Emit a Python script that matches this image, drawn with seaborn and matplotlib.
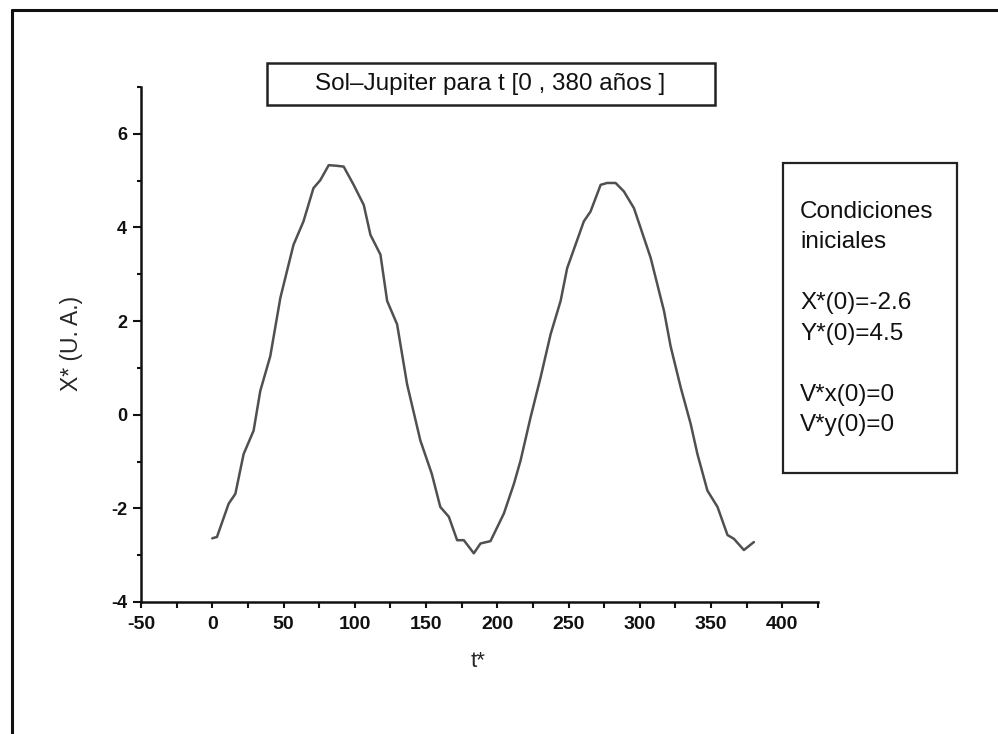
import numpy as np
import matplotlib
matplotlib.use("Agg")
import matplotlib.pyplot as plt
from matplotlib.patches import Rectangle
from matplotlib.lines import Line2D
from matplotlib.ticker import MultipleLocator
import seaborn as sns
import pandas as pd

# ---- data ----
t_vals = [0, 3.3, 11.5, 16.2, 22, 29, 33.7, 40.7, 47.8, 57, 64, 71, 75.8, 81.7,
          86.4, 92.2, 99.2, 106.3, 111, 118, 122.7, 129.7, 136.7, 146, 154, 160,
          166, 171.8, 176.5, 183.5, 188.2, 195.2, 204.6, 211.6, 216.3, 223.3,
          230.3, 237.4, 244.4, 249, 260.7, 265.4, 272.5, 277, 283, 288.8, 295.9,
          307.6, 317, 321.6, 328.7, 335.7, 340.4, 347.4, 354.5, 361.5, 366, 373, 380]
x_vals = [-2.64, -2.61, -1.90, -1.69, -0.84, -0.34, 0.51, 1.25, 2.50, 3.63, 4.13,
          4.84, 5.01, 5.33, 5.32, 5.30, 4.91, 4.48, 3.84, 3.42, 2.43, 1.93, 0.65,
          -0.55, -1.26, -1.97, -2.18, -2.68, -2.68, -2.96, -2.75, -2.70, -2.11,
          -1.48, -0.98, -0.06, 0.79, 1.72, 2.43, 3.13, 4.13, 4.34, 4.91, 4.95,
          4.95, 4.77, 4.41, 3.35, 2.21, 1.46, 0.58, -0.20, -0.84, -1.62, -1.97,
          -2.57, -2.65, -2.89, -2.72]

x_ticks = [-50, 0, 50, 100, 150, 200, 250, 300, 350, 400]
y_ticks = [-4, -2, 0, 2, 4, 6]

title_text = "Sol\u2013Jupiter para t [0 , 380 a\u00f1os ]"
cond_lines = ["Condiciones", "iniciales", "", "X*(0)=-2.6", "Y*(0)=4.5", "",
              "V*x(0)=0", "V*y(0)=0"]
x_label = "t*"
y_label = "X* (U. A.)"

# ---- style ----
sns.set_style("ticks")
plt.rcParams["font.family"] = ["Liberation Sans", "DejaVu Sans"]
plt.rcParams["axes.unicode_minus"] = False

W, H = 998, 734
fig = plt.figure(figsize=(W / 100, H / 100), dpi=100)
fig.patch.set_facecolor("white")

def fx(px):
    return px / W

def fy(py):
    return 1 - py / H

ax = fig.add_axes([fx(141), fy(602), fx(818) - fx(141), fy(87) - fy(602)])

df = pd.DataFrame({"t": t_vals, "X": x_vals})
sns.lineplot(data=df, x="t", y="X", ax=ax, color="#505050", linewidth=1.8,
             sort=False, estimator=None)

ax.set_xlim(-50, 425)
ax.set_ylim(-4, 7)
ax.set_xticks(x_ticks)
ax.set_yticks(y_ticks)
ax.xaxis.set_minor_locator(MultipleLocator(25))
ax.yaxis.set_minor_locator(MultipleLocator(1))

sns.despine(ax=ax)
for s in ["left", "bottom"]:
    ax.spines[s].set_linewidth(1.8)
    ax.spines[s].set_color("#111111")

ax.tick_params(axis="x", which="major", direction="out", length=4, width=1.5,
               pad=6, labelsize=14, colors="#111111")
ax.tick_params(axis="x", which="minor", direction="out", length=4, width=1.5,
               colors="#111111")
ax.tick_params(axis="y", which="major", direction="out", length=6, width=1.5,
               pad=4, labelsize=13, colors="#111111")
ax.tick_params(axis="y", which="minor", direction="out", length=3, width=1.5,
               colors="#111111")
for lab in ax.get_xticklabels() + ax.get_yticklabels():
    lab.set_fontweight("bold")

ax.set_xlabel(x_label, fontsize=16)
ax.set_ylabel(y_label, fontsize=16.5)
ax.xaxis.set_label_coords((478 - 141) / 677, (602 - 651) / 515)
ax.yaxis.set_label_coords((83 - 141) / 677, (602 - 343) / 515)

# ---- title box ----
fig.add_artist(Rectangle((fx(267), fy(105)), fx(715) - fx(267), fy(63) - fy(105),
                         transform=fig.transFigure, fill=False,
                         edgecolor="#222222", linewidth=1.8))
fig.text(fx(490), fy(84), title_text, ha="center", va="center", fontsize=17.5,
         color="#111111")

# ---- initial-conditions box ----
fig.add_artist(Rectangle((fx(783), fy(473)), fx(957) - fx(783), fy(163) - fy(473),
                         transform=fig.transFigure, fill=False,
                         edgecolor="#222222", linewidth=1.6))
for i, line in enumerate(cond_lines):
    if line:
        fig.text(fx(800), fy(212 + 30.5 * i), line, ha="left", va="center",
                 fontsize=17.5, color="#111111")

# ---- outer frame (top and left edges) ----
fig.add_artist(Line2D([fx(12), 1], [fy(10), fy(10)], transform=fig.transFigure,
                      color="#111111", linewidth=2.2))
fig.add_artist(Line2D([fx(12), fx(12)], [0, fy(10)], transform=fig.transFigure,
                      color="#111111", linewidth=2.2))

fig.savefig("out.png", dpi=100)
